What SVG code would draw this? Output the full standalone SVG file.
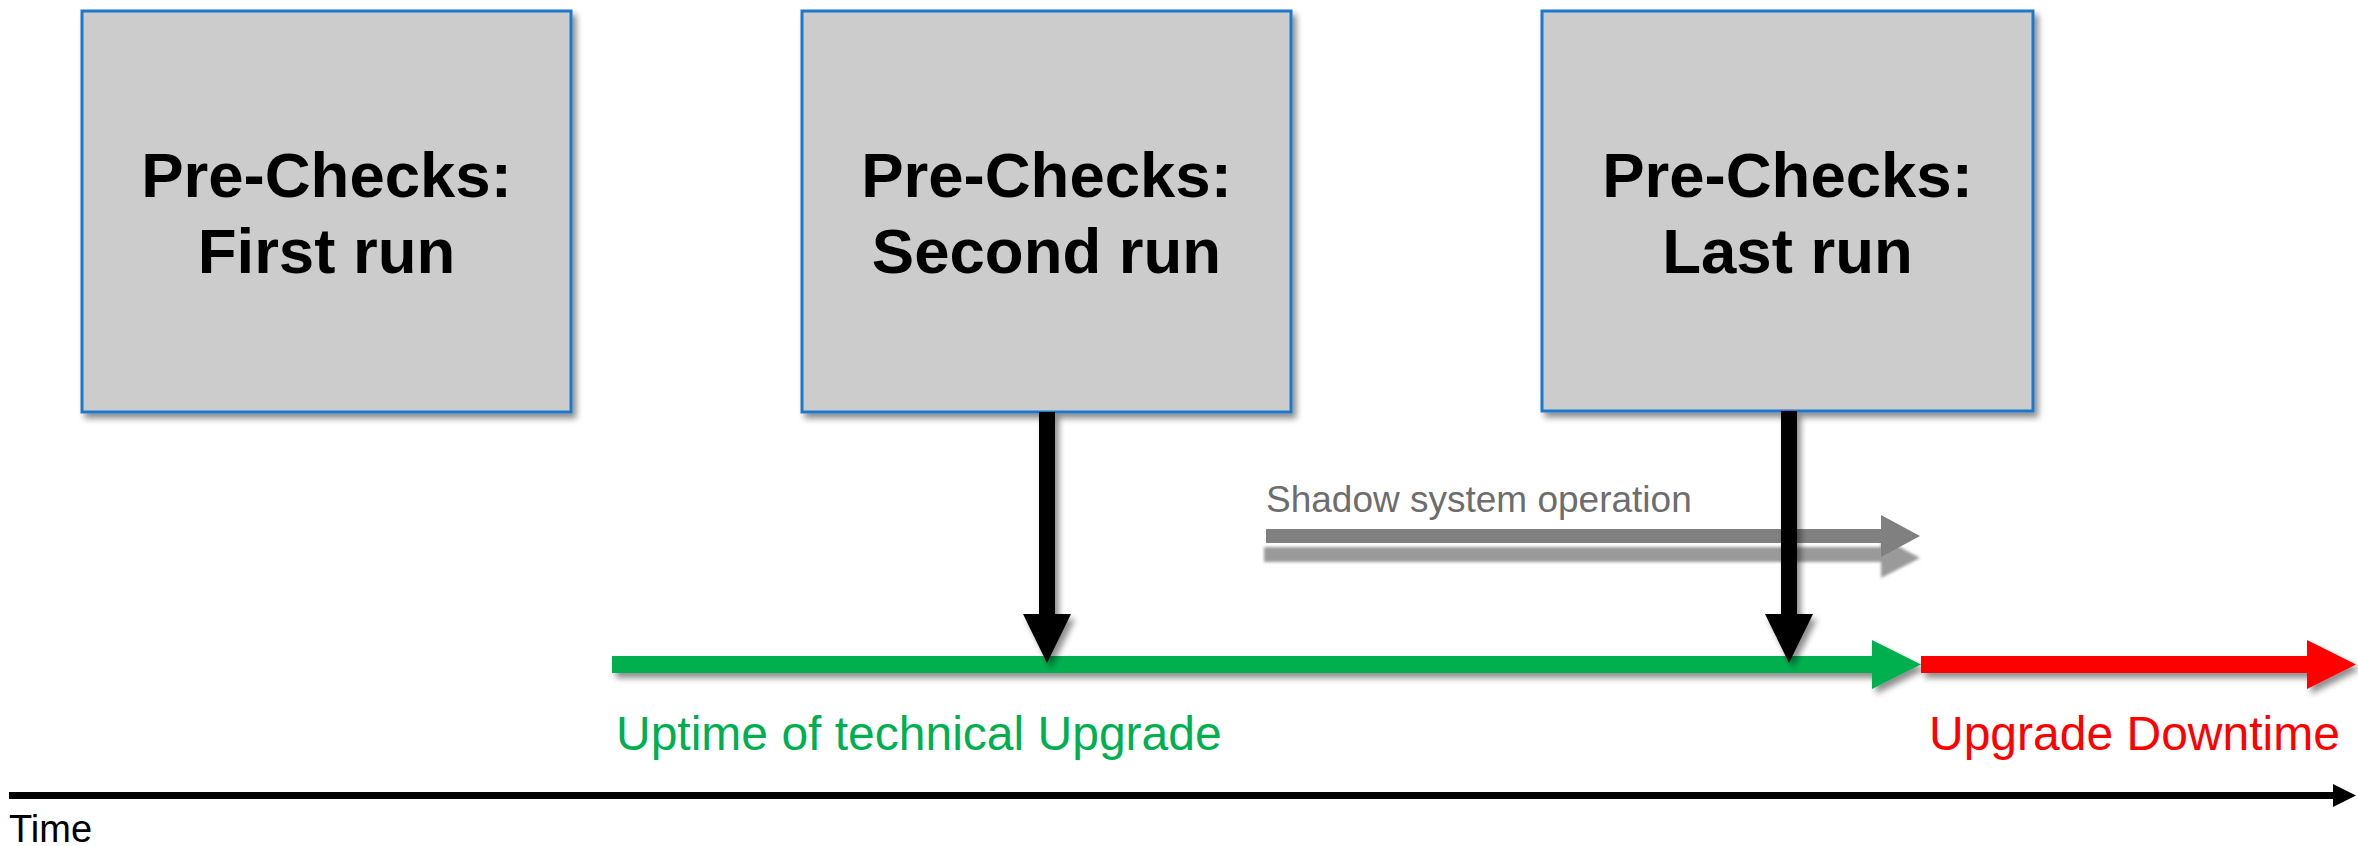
<svg xmlns="http://www.w3.org/2000/svg" width="2358" height="846" viewBox="0 0 2358 846">
<style>
.box{fill:#CCCCCC;stroke:#1F78CC;stroke-width:3}
.bt{font-family:"Liberation Sans",Arial,sans-serif;font-weight:bold;font-size:63.5px;fill:#000;text-anchor:middle}
.lbl{font-family:"Liberation Sans",Arial,sans-serif;font-size:48px}
</style>
<defs>
<filter id="sh" x="-20%" y="-20%" width="140%" height="160%">
<feGaussianBlur in="SourceAlpha" stdDeviation="3"/>
<feOffset dx="4" dy="5" result="b"/>
<feComponentTransfer><feFuncA type="linear" slope="0.45"/></feComponentTransfer>
<feMerge><feMergeNode/><feMergeNode in="SourceGraphic"/></feMerge>
</filter>
<filter id="blur" x="-5%" y="-50%" width="110%" height="200%">
<feGaussianBlur stdDeviation="1.5"/>
</filter>
</defs>
<rect width="2358" height="846" fill="#fff"/>
<g id="node-first">
<rect class="box" x="82" y="11" width="489" height="401" filter="url(#sh)"/>
<text class="bt" x="326.5" y="197">Pre-Checks:</text>
<text class="bt" x="326.5" y="273">First run</text>
</g>
<g id="node-second">
<rect class="box" x="802" y="11" width="489" height="401" filter="url(#sh)"/>
<text class="bt" x="1046.5" y="197">Pre-Checks:</text>
<text class="bt" x="1046.5" y="273">Second run</text>
</g>
<g id="node-last">
<rect class="box" x="1542" y="11" width="491" height="400" filter="url(#sh)"/>
<text class="bt" x="1787.5" y="197">Pre-Checks:</text>
<text class="bt" x="1787.5" y="273">Last run</text>
</g>
<g id="connectors">
<polygon points="1264,547 1881,547 1881,537 1920,558 1881,578 1881,562 1264,562" fill="#9A9A9A" filter="url(#blur)"/>
<polygon points="1266,529 1881,529 1881,515 1920,536 1881,557 1881,543 1266,543" fill="#808080"/>
<polygon points="612,656 1872,656 1872,640 1921,664.5 1872,689 1872,673 612,673" fill="#00B050" filter="url(#sh)"/>
<polygon points="1921,656 2307,656 2307,640 2356,664.5 2307,689 2307,673 1921,673" fill="#FF0000" filter="url(#sh)"/>
<polygon points="1039,412 1055,412 1055,614 1071,614 1047,663 1023,614 1039,614" fill="#000" filter="url(#sh)"/>
<polygon points="1781,411 1797,411 1797,614 1813,614 1789,663 1765,614 1781,614" fill="#000" filter="url(#sh)"/>
<polygon points="9,792 2333,792 2333,784 2356,795.5 2333,807 2333,799 9,799" fill="#000"/>
</g>
<text class="lbl" x="1266" y="512" fill="#6D6D6D" style="font-size:37px">Shadow system operation</text>
<text class="lbl" x="616" y="750" fill="#00B050">Uptime of technical Upgrade</text>
<text class="lbl" x="1929" y="750" fill="#FF0000">Upgrade Downtime</text>
<text class="lbl" x="9" y="842" fill="#000" style="font-size:38px">Time</text>
</svg>
